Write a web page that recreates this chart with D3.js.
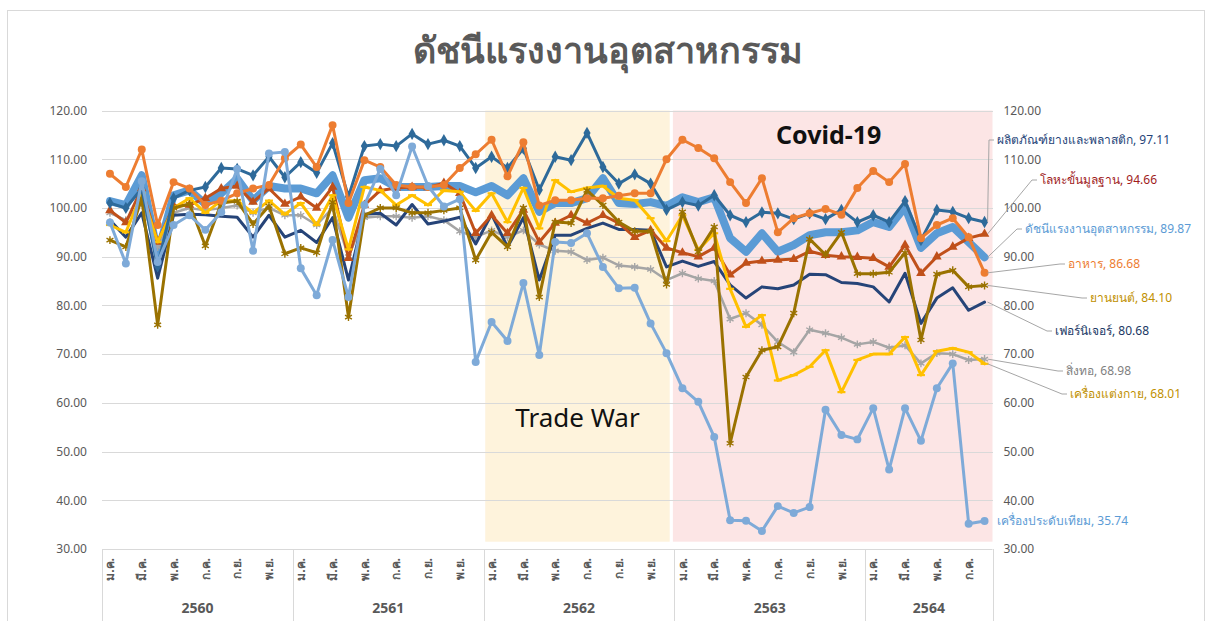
<!DOCTYPE html>
<meta charset="utf-8">
<style>
body { margin: 0; background: #fff; }
svg { font-family: "Noto Sans", "Open Sans", sans-serif; }
.grid line { stroke: #d9d9d9; stroke-width: 1; shape-rendering: crispEdges; }
.series-line { fill: none; stroke-linejoin: round; stroke-linecap: round; }
</style>
<body>
<script src="https://cdn.jsdelivr.net/npm/d3@7"></script>
<script>

// ---- data ----
var years = ["2560", "2561", "2562", "2563", "2564"];
var monthsPerYear = [12, 12, 12, 12, 8];
var monthLabels = ["ม.ค.", "มี.ค.", "พ.ค.", "ก.ค.", "ก.ย.", "พ.ย."];
var yTicks = [30, 40, 50, 60, 70, 80, 90, 100, 110, 120];

var rubberPlastic = [101, 100, 104, 88, 102, 103.6, 104.3, 108.2, 108, 106.7, 110.5, 106.3,
  109.4, 107.2, 113.3, 102.3, 112.7, 113.1, 112.7, 115.2, 113.1, 113.9, 112.7, 108.2,
  110.5, 108.2, 112.2, 103.7, 110.5, 109.8, 115.4, 108.4, 105, 106.9, 105, 99.6,
  101.2, 100.5, 102.6, 98.5, 97.1, 99.1, 98.9, 97.7, 98.9, 97.7, 99.6, 97.1,
  98.5, 97.1, 101.4, 93.4, 99.6, 99.2, 97.9, 97.11];
var basicMetal = [99.5, 97, 104, 93, 100.4, 100.6, 102, 104, 104.5, 101.2, 104, 100.8,
  102.3, 100, 104.3, 89.7, 100.6, 103.6, 104.1, 104.3, 104.2, 105.1, 103, 94.8,
  98.5, 94.8, 99.6, 93, 96.9, 98.5, 96.9, 98.5, 96.9, 94, 95.4, 91.8,
  90.8, 90, 91.8, 86.3, 88.7, 89.1, 89.3, 89.5, 91.1, 90.3, 90, 89.9,
  89.7, 87.9, 92.4, 86.6, 90, 92, 93.8, 94.66];
var industryIndex = [101.4, 100.6, 106.7, 90.5, 102.6, 103.6, 100.8, 103, 106, 101.5, 104.5, 104,
  104, 103, 106.7, 98, 105.7, 106.1, 104.3, 104.3, 104.3, 104.5, 104.5, 103.2,
  104.5, 102.6, 106.1, 99.2, 101, 101, 102, 106.1, 101, 100.8, 101.2, 100.4,
  102.2, 101.2, 102.2, 93.8, 91, 94.8, 91, 92.4, 94.4, 95, 95, 95.4,
  97.1, 96.1, 100.2, 91.8, 94.8, 96.1, 93, 89.87];
var food = [107, 104.3, 112, 96.5, 105.3, 104, 100.6, 101.5, 103, 104, 104.7, 110.2,
  113, 108.4, 117, 101, 109.8, 108.4, 104.7, 104.3, 104.3, 104.7, 108.2, 111,
  114, 106.5, 113.5, 100.5, 101.6, 101.6, 102, 102, 102.5, 103, 103, 110,
  114, 112.3, 110.2, 105.3, 101, 106.1, 95, 97.9, 98.9, 99.8, 98.6, 104.1,
  107.6, 105.3, 109, 93.8, 96.5, 97.9, 94, 86.68];
var automotive = [93.4, 92, 102, 76, 100, 100.8, 92.2, 101, 101.4, 96.7, 100.4, 90.6,
  91.8, 90.8, 101.2, 77.6, 98.5, 100, 100, 99, 99, 99.5, 100, 89.3,
  95, 92, 100, 81.7, 97.1, 96.9, 103.6, 100.6, 97.1, 95.2, 95.2, 84.3,
  99.2, 91, 96.1, 51.7, 65.3, 70.8, 71.5, 78.4, 93.6, 90.4, 95, 86.5,
  86.5, 86.8, 90.8, 72.9, 86.4, 87.2, 83.8, 84.1];
var furniture = [97.5, 94, 99, 85.6, 98.5, 98.7, 98.6, 98.3, 98.1, 94, 98.5, 94,
  95.4, 92.9, 98, 85.2, 98.7, 98.9, 96.5, 100.7, 96.7, 97.3, 98.1, 92.6,
  98.7, 92, 98, 85.2, 94.4, 94.4, 95.8, 96.9, 95.6, 95.6, 95.4, 87.9,
  89.1, 88, 89, 84.2, 81.5, 83.8, 83.4, 84.2, 86.4, 86.3, 84.7, 84.5,
  83.8, 80.7, 86.6, 76.3, 81.5, 83.6, 79, 80.68];
var textile = [99, 97.5, 101, 92, 99, 100, 99.5, 100, 100.5, 99, 100, 98.5,
  98.5, 96.5, 100, 90, 98, 98.3, 98.3, 98, 98.3, 97.5, 95.2, 94,
  95.4, 94, 95.4, 92.5, 91.2, 91, 89.3, 89.8, 88.2, 87.9, 87.4, 85.2,
  86.6, 85.5, 85, 77.2, 78.4, 76, 72.5, 70.4, 75, 74.3, 73.4, 72,
  72.5, 71.3, 71.8, 68.1, 70.2, 70, 68.8, 68.98];
var apparel = [96.5, 95, 103, 93, 100, 102, 99, 101.5, 101.5, 99, 101.5, 98.7,
  101, 96.5, 102.6, 91.5, 104.3, 103.6, 100.6, 102.6, 100.6, 103.6, 103.3, 99.4,
  103, 97.1, 104.1, 95.8, 105.7, 103.3, 104.1, 104.5, 102, 101.6, 97.9, 93.2,
  98.5, 91.4, 94.8, 83.4, 75.6, 78, 64.6, 65.7, 67.4, 70.8, 62.2, 68.8,
  70, 70, 73.5, 65.7, 70.6, 71.2, 70.4, 68.01];
var jewelry = [97, 88.6, 105.5, 88.9, 96.5, 98.5, 95.5, 99.1, 108, 91.2, 111.2, 111.5,
  87.6, 82.1, 93.4, 81.7, 100.6, 108, 102.6, 112.6, 104.5, 100.3, 101.8, 68.4,
  76.6, 72.7, 84.6, 69.8, 93, 92.8, 94.8, 87.9, 83.5, 83.6, 76.3, 70.2,
  63, 60.2, 53, 35.9, 35.8, 33.7, 38.8, 37.4, 38.6, 58.6, 53.4, 52.5,
  58.9, 46.3, 58.9, 52.2, 63, 68.1, 35.2, 35.74];

var seriesNames = ["ดัชนีแรงงานอุตสาหกรรม", "สิ่งทอ", "เฟอร์นิเจอร์", "โลหะขั้นมูลฐาน",
  "เครื่องแต่งกาย", "ยานยนต์", "ผลิตภัณฑ์ยางและพลาสติก", "อาหาร", "เครื่องประดับเทียม"];
var seriesValues = [industryIndex, textile, furniture, basicMetal,
  apparel, automotive, rubberPlastic, food, jewelry];

// shaded periods in month units
var periodNames = ["Trade War", "Covid-19"];
var periodStart = [24.1, 35.9];
var periodEnd = [35.7, 56];

// ---- styles ----
var styles = [
  {color: "#5b9bd5", width: 8, marker: null, label: "#5b9bd5", lx: 1025, ly: 229},
  {color: "#a5a5a5", width: 2.5, marker: "star", label: "#7f7f7f", lx: 1066, ly: 371},
  {color: "#264478", width: 3, marker: null, label: "#203864", lx: 1055, ly: 331},
  {color: "#c0501a", width: 3, marker: "triangle", label: "#a01c1c", lx: 1040, ly: 180},
  {color: "#ffc000", width: 3, marker: "dash", label: "#bf9000", lx: 1070, ly: 394},
  {color: "#9a7200", width: 3, marker: "star", label: "#bf9000", lx: 1090, ly: 298},
  {color: "#2e6a9a", width: 3, marker: "diamond", label: "#264478", lx: 997, ly: 140},
  {color: "#ed7d31", width: 3, marker: "circle", label: "#ed7d31", lx: 1068, ly: 264},
  {color: "#7eaad8", width: 3, marker: "circle", label: "#5b9bd5", lx: 997, ly: 521}
];

var W = 1209, H = 621;
var nMonths = d3.sum(monthsPerYear);

var x = d3.scaleLinear().domain([0, nMonths]).range([102, 992.5]);
var y = d3.scaleLinear().domain([30, 120]).range([549, 110.5]);

var svg = d3.select("body").append("svg")
    .attr("width", W)
    .attr("height", H);

// chart frame
svg.append("rect")
    .attr("x", 7.5).attr("y", 10.5)
    .attr("width", W - 12).attr("height", H)
    .attr("fill", "none").attr("stroke", "#d9d9d9");

// title
svg.append("text")
    .attr("x", 608).attr("y", 63)
    .attr("text-anchor", "middle")
    .attr("fill", "#595959")
    .style("font-size", "36px")
    .style("font-weight", "bold")
    .text("ดัชนีแรงงานอุตสาหกรรม");

// shaded periods
var periodFill = ["#fef3dc", "#fce5e5"];
svg.selectAll("rect.period")
    .data(periodNames)
    .enter().append("rect")
    .attr("class", "period")
    .attr("x", function(d, i) { return x(periodStart[i]); })
    .attr("width", function(d, i) { return x(periodEnd[i]) - x(periodStart[i]); })
    .attr("y", y(120))
    .attr("height", y(31.5) - y(120))
    .attr("fill", function(d, i) { return periodFill[i]; });

// gridlines
svg.append("g")
    .attr("class", "grid")
    .selectAll("line")
    .data(yTicks.slice(1))
    .enter().append("line")
    .attr("x1", x(0)).attr("x2", x(nMonths))
    .attr("y1", function(d) { return Math.round(y(d)) + 0.5; })
    .attr("y2", function(d) { return Math.round(y(d)) + 0.5; });

// left and right value axes
var fmt = d3.format(".2f");
var leftAxis = svg.append("g")
    .attr("transform", "translate(" + (x(0) - 12) + ",0)")
    .call(d3.axisLeft(y).tickValues(yTicks).tickFormat(fmt).tickSize(0));
var rightAxis = svg.append("g")
    .attr("transform", "translate(" + (x(nMonths) + 8) + ",0)")
    .call(d3.axisRight(y).tickValues(yTicks).tickFormat(fmt).tickSize(0));
[leftAxis, rightAxis].forEach(function(a) {
  a.select(".domain").remove();
  a.selectAll("text").attr("fill", "#595959")
      .style("font-size", "12px").style("font-family", "\"Noto Sans\", sans-serif");
});

// category axis line
svg.append("line")
    .attr("x1", x(0)).attr("x2", x(nMonths))
    .attr("y1", y(30) + 0.5).attr("y2", y(30) + 0.5)
    .attr("stroke", "#d9d9d9");

// month labels and year groups
var yearStart = [];
monthsPerYear.reduce(function(acc, n) { yearStart.push(acc); return acc + n; }, 0);

var monthTicks = [];
years.forEach(function(yr, yi) {
  for (var m = 0; m < monthsPerYear[yi]; m += 2) {
    monthTicks.push({idx: yearStart[yi] + m, label: monthLabels[m / 2]});
  }
});

svg.append("g").selectAll("text")
    .data(monthTicks)
    .enter().append("text")
    .attr("transform", function(d) {
      return "translate(" + x(d.idx + 0.5) + "," + (y(30) + 9) + ") rotate(-90)";
    })
    .attr("text-anchor", "end")
    .attr("dy", "0.35em")
    .attr("fill", "#595959")
    .style("font-size", "12px")
    .style("font-weight", "bold")
    .text(function(d) { return d.label; });

var sepIdx = yearStart.concat([nMonths]);
svg.append("g").selectAll("line")
    .data(sepIdx)
    .enter().append("line")
    .attr("x1", function(d) { return Math.round(x(d)) + 0.5; })
    .attr("x2", function(d) { return Math.round(x(d)) + 0.5; })
    .attr("y1", y(30)).attr("y2", H)
    .attr("stroke", "#d9d9d9");

svg.append("g").selectAll("text")
    .data(years)
    .enter().append("text")
    .attr("x", function(d, i) { return x(yearStart[i] + monthsPerYear[i] / 2); })
    .attr("y", 613)
    .attr("text-anchor", "middle")
    .attr("fill", "#595959")
    .style("font-size", "14px")
    .style("font-weight", "bold")
    .text(function(d) { return d; });

// period captions
svg.append("text")
    .attr("x", x((periodStart[0] + periodEnd[0]) / 2))
    .attr("y", 427)
    .attr("text-anchor", "middle")
    .attr("fill", "#111")
    .style("font-size", "26px")
    .text(periodNames[0]);
svg.append("text")
    .attr("x", x(45.7))
    .attr("y", 144)
    .attr("text-anchor", "middle")
    .attr("fill", "#111")
    .style("font-size", "25px")
    .style("font-weight", "bold")
    .text(periodNames[1]);

// series lines
var line = d3.line()
    .x(function(d, i) { return x(i + 0.5); })
    .y(function(d) { return y(d); });

var symbolFor = {
  circle: d3.symbol().type(d3.symbolCircle).size(50),
  diamond: d3.symbol().type(d3.symbolDiamond).size(44),
  triangle: d3.symbol().type(d3.symbolTriangle).size(40),
  star: d3.symbol().type(d3.symbolAsterisk).size(44)
};

var g = svg.append("g");
seriesValues.forEach(function(vals, si) {
  var st = styles[si];
  g.append("path")
      .datum(vals)
      .attr("class", "series-line")
      .attr("stroke", st.color)
      .attr("stroke-width", st.width)
      .attr("d", line);
  if (!st.marker) return;
  var pts = g.append("g").selectAll("path")
      .data(vals)
      .enter().append("path")
      .attr("transform", function(d, i) { return "translate(" + x(i + 0.5) + "," + y(d) + ")"; });
  if (st.marker === "dash") {
    pts.attr("d", "M-4,0H4").attr("stroke", st.color).attr("stroke-width", 2.2);
  } else if (st.marker === "star") {
    pts.attr("d", symbolFor.star).attr("fill", "none").attr("stroke", st.color).attr("stroke-width", 1.4);
  } else {
    pts.attr("d", symbolFor[st.marker]).attr("fill", st.color);
  }
});

// end labels with leader lines
seriesValues.forEach(function(vals, si) {
  var st = styles[si];
  var last = vals.length - 1;
  var px = x(last + 0.5), py = y(vals[last]);
  if (si !== 8) {
    svg.append("path")
        .attr("d", d3.line()([[px + 3, py], [st.lx - 8, st.ly], [st.lx - 3, st.ly]]))
        .attr("fill", "none")
        .attr("stroke", "#a6a6a6")
        .attr("stroke-width", 1);
  }
  svg.append("text")
      .attr("x", st.lx)
      .attr("y", st.ly)
      .attr("dy", "0.35em")
      .attr("fill", st.label)
      .style("font-size", "12px")
      .text(seriesNames[si] + ", " + d3.format(".2f")(vals[last]));
});

</script>
